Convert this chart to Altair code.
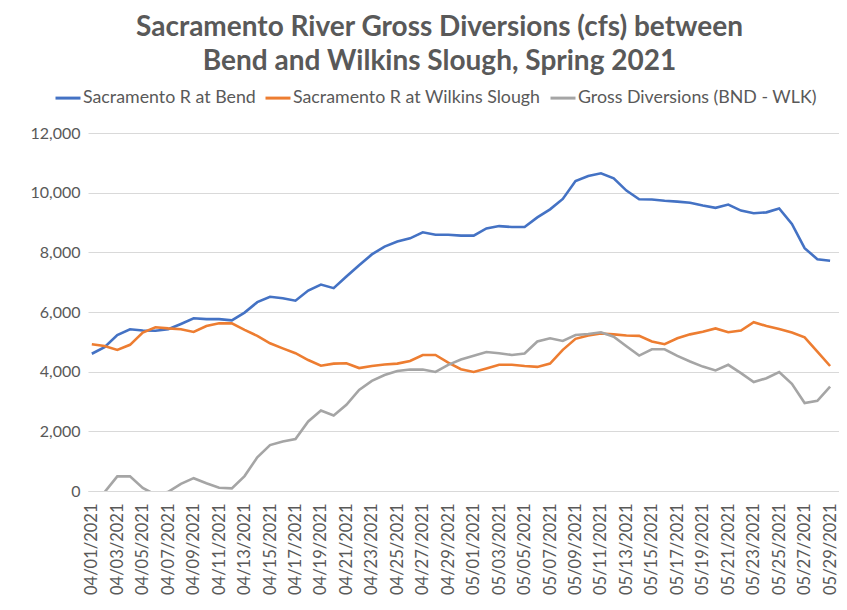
import altair as alt
import pandas as pd

dates = [f"04/{d:02d}/2021" for d in range(1, 31)] + [f"05/{d:02d}/2021" for d in range(1, 30)]

bend = [4600, 4820, 5230, 5420, 5380, 5370, 5420, 5600, 5790, 5760,
        5760, 5720, 5980, 6330, 6510, 6460, 6380, 6720, 6920, 6800,
        7190, 7570, 7930, 8190, 8360, 8470, 8670, 8590, 8590, 8560,
        8560, 8800, 8880, 8850, 8850, 9170, 9440, 9790, 10390, 10560,
        10650, 10480, 10070, 9780, 9770, 9730, 9700, 9660, 9570, 9490,
        9600, 9400, 9310, 9340, 9470, 8950, 8140, 7770, 7720]

wilkins = [4920, 4860, 4730, 4900, 5310, 5490, 5450, 5420, 5330, 5530,
           5620, 5620, 5400, 5200, 4950, 4780, 4620, 4390, 4200, 4270,
           4280, 4120, 4190, 4240, 4270, 4360, 4560, 4560, 4300, 4080,
           3990, 4110, 4230, 4230, 4190, 4160, 4270, 4730, 5100, 5210,
           5280, 5250, 5210, 5200, 5010, 4920, 5120, 5250, 5340, 5450,
           5320, 5380, 5660, 5530, 5430, 5310, 5150, 4670, 4190]

gross = [-320, -40, 490, 490, 100, -120, -30, 240, 430, 260,
         110, 90, 500, 1130, 1540, 1660, 1740, 2330, 2700, 2530,
         2890, 3390, 3690, 3890, 4020, 4070, 4070, 3990, 4230, 4410,
         4530, 4660, 4620, 4560, 4610, 5010, 5120, 5030, 5230, 5260,
         5320, 5170, 4850, 4540, 4750, 4750, 4530, 4340, 4170, 4040,
         4230, 3950, 3650, 3780, 3990, 3590, 2950, 3020, 3500]

series_names = ["Sacramento R at Bend", "Sacramento R at Wilkins Slough",
                "Gross Diversions (BND - WLK)"]
series_colors = ["#4472C4", "#ED7D31", "#A5A5A5"]
y_ticks = [0, 2000, 4000, 6000, 8000, 10000, 12000]
x_label_dates = dates[::2]
title_lines = ["Sacramento River Gross Diversions (cfs) between",
               "Bend and Wilkins Slough, Spring 2021"]

rows = []
for name, vals in zip(series_names, [bend, wilkins, gross]):
    for d, v in zip(dates, vals):
        rows.append({"date": d, "series": name, "value": v})
df = pd.DataFrame(rows)

FONT = "Lato"
TXT = "#595959"
GRID = "#D9D9D9"

chart = alt.Chart(df).mark_line(strokeWidth=2.6, clip=True).encode(
    x=alt.X(
        "date:O", sort=dates,
        scale=alt.Scale(type="point", padding=0.5, align=0.3),
        axis=alt.Axis(values=x_label_dates, labelAngle=-90, title=None,
                      labelFont=FONT, labelFontSize=16.5, labelColor=TXT,
                      labelPadding=12, ticks=False, grid=False,
                      domainColor=GRID, domainWidth=1),
    ),
    y=alt.Y(
        "value:Q",
        scale=alt.Scale(domain=[0, 12000], nice=False, zero=True),
        axis=alt.Axis(values=y_ticks, format=",.0f", title=None,
                      labelFont=FONT, labelFontSize=16, labelColor=TXT,
                      labelPadding=8, ticks=False, domain=False,
                      gridColor=GRID, gridWidth=1),
    ),
    color=alt.Color(
        "series:N", sort=series_names,
        scale=alt.Scale(domain=series_names, range=series_colors),
        legend=alt.Legend(orient="none", legendX=-34, legendY=-49,
                          direction="horizontal", title=None,
                          symbolType="stroke", symbolSize=625,
                          symbolStrokeWidth=3, labelFont=FONT,
                          labelFontSize=17.8, labelColor=TXT, labelLimit=0,
                          labelOffset=1, columnPadding=3),
    ),
).properties(
    width=751, height=358,
    autosize=alt.AutoSizeParams(type="none"),
    padding={"left": 80, "top": 125, "right": 0, "bottom": 111},
    title=alt.TitleParams(text=title_lines, font=FONT, fontSize=28,
                          fontWeight="bold", color=TXT, anchor="middle",
                          frame="group", lineHeight=34, offset=8, dx=-24),
).configure_view(stroke=None)

chart.save("out.html", embed_options={"renderer": "svg", "actions": False})
